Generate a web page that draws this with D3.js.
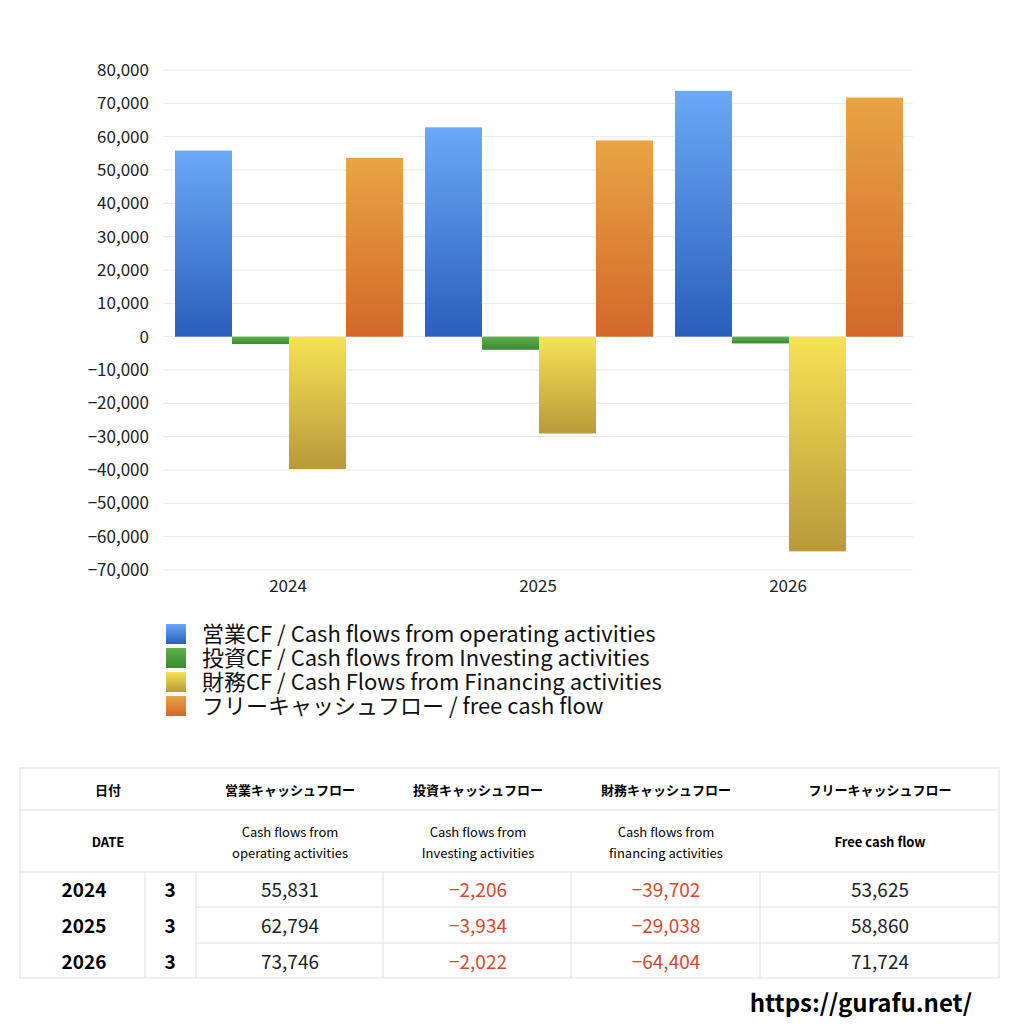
<!DOCTYPE html><html><head><meta charset="utf-8"><script src="https://cdn.jsdelivr.net/npm/d3@7"></script>
<style>body{margin:0;background:#fff}svg{font-family:"Noto Sans CJK JP","Noto Sans",sans-serif}</style></head><body><svg id="c" width="1024" height="1024"></svg><script>
const years=["2024","2025","2026"];
const seriesNames=["営業CF / Cash flows from operating activities","投資CF / Cash flows from Investing activities","財務CF / Cash Flows from Financing activities","フリーキャッシュフロー / free cash flow"];
const operating=[55831,62794,73746];
const investing=[-2206,-3934,-2022];
const financing=[-39702,-29038,-64404];
const freeCF=[53625,58860,71724];
const yTicks=[80000,70000,60000,50000,40000,30000,20000,10000,0,-10000,-20000,-30000,-40000,-50000,-60000,-70000];
const headJa=["日付","営業キャッシュフロー","投資キャッシュフロー","財務キャッシュフロー","フリーキャッシュフロー"];
const headEn=["DATE",["Cash flows from","operating activities"],["Cash flows from","Investing activities"],["Cash flows from","financing activities"],["Free cash flow"]];
const months=["3","3","3"];
const series=[operating,investing,financing,freeCF];
const grads=[["#6aa9f5","#2a5ebd"],["#5fb04c","#3a8a30"],["#f6e254","#b89a3a"],["#e9a443","#d3682a"]];
const svg=d3.select("#c");
const defs=svg.append("defs");
grads.forEach((g,i)=>{const lg=defs.append("linearGradient").attr("id","g"+i).attr("x1",0).attr("y1",0).attr("x2",0).attr("y2",1);
lg.append("stop").attr("offset","0").attr("stop-color",g[0]);lg.append("stop").attr("offset","1").attr("stop-color",g[1]);});
const y=d3.scaleLinear().domain([-70000,80000]).range([570,70]);
const x0=d3.scaleBand().domain(years).range([163,913]).paddingInner(0).paddingOuter(0);
const x1=d3.scaleBand().domain([0,1,2,3]).range([12,240]);
svg.append("g").selectAll("line").data(yTicks).join("line").attr("x1",163).attr("x2",913).attr("y1",d=>y(d)).attr("y2",d=>y(d)).attr("stroke","#e8e8e8");
svg.append("g").selectAll("text").data(yTicks).join("text").attr("x",149).attr("y",d=>y(d)+6).attr("text-anchor","end").attr("font-size",17).attr("fill","#222").text(d3.format(","));
years.forEach((yr,gi)=>{series.forEach((s,si)=>{const v=s[gi];
svg.append("rect").attr("x",x0(yr)+x1(si)).attr("width",x1.bandwidth()).attr("y",y(Math.max(0,v))).attr("height",Math.abs(y(v)-y(0))).attr("fill",`url(#g${si})`);});
svg.append("text").attr("x",x0(yr)+x0.bandwidth()/2).attr("y",592).attr("text-anchor","middle").attr("font-size",17).attr("fill","#222").text(yr);});
seriesNames.forEach((n,i)=>{svg.append("rect").attr("x",166).attr("y",624+i*24).attr("width",20).attr("height",20).attr("fill",`url(#g${i})`);
svg.append("text").attr("x",202).attr("y",642+i*24).attr("font-size",22).attr("fill","#111").text(n);});
const T=svg.append("g");const L=20,R=999;
T.append("rect").attr("x",L).attr("y",768).attr("width",R-L).attr("height",210).attr("fill","none").attr("stroke","#e0e0e0");
[[L,810],[L,872],[196,907],[196,943]].forEach(([a,b])=>T.append("line").attr("x1",a).attr("x2",R).attr("y1",b).attr("y2",b).attr("stroke","#e0e0e0"));
[145,196,383,571,760].forEach(xv=>T.append("line").attr("x1",xv).attr("x2",xv).attr("y1",872).attr("y2",978).attr("stroke","#e0e0e0"));
const cx=[108,290,478,666,880];
headJa.forEach((h,i)=>T.append("text").attr("x",cx[i]).attr("y",795).attr("text-anchor","middle").attr("font-size",13).attr("font-weight","bold").text(h));
headEn.forEach((h,i)=>{const lines=Array.isArray(h)?h:[h];lines.forEach((l,k)=>T.append("text").attr("x",cx[i]).attr("y",(lines.length==2?837:847)+k*21).attr("text-anchor","middle").attr("font-size",13).attr("font-weight",i==0||lines.length==1?"bold":"normal").text(l));});
years.forEach((yr,r)=>{const yy=897+r*36;
T.append("text").attr("x",84).attr("y",yy).attr("text-anchor","middle").attr("font-size",19).attr("font-weight","bold").text(yr);
T.append("text").attr("x",170).attr("y",yy).attr("text-anchor","middle").attr("font-size",19).attr("font-weight","bold").text(months[r]);
series.forEach((s,si)=>T.append("text").attr("x",[290,478,666,880][si]).attr("y",yy).attr("text-anchor","middle").attr("font-size",19).attr("fill",s[r]<0?"#d9472b":"#222").text(d3.format(",")(s[r])));});
svg.append("text").attr("x",972).attr("y",1012).attr("text-anchor","end").attr("font-size",24).attr("font-weight","bold").text("https://gurafu.net/");
</script></body></html>
